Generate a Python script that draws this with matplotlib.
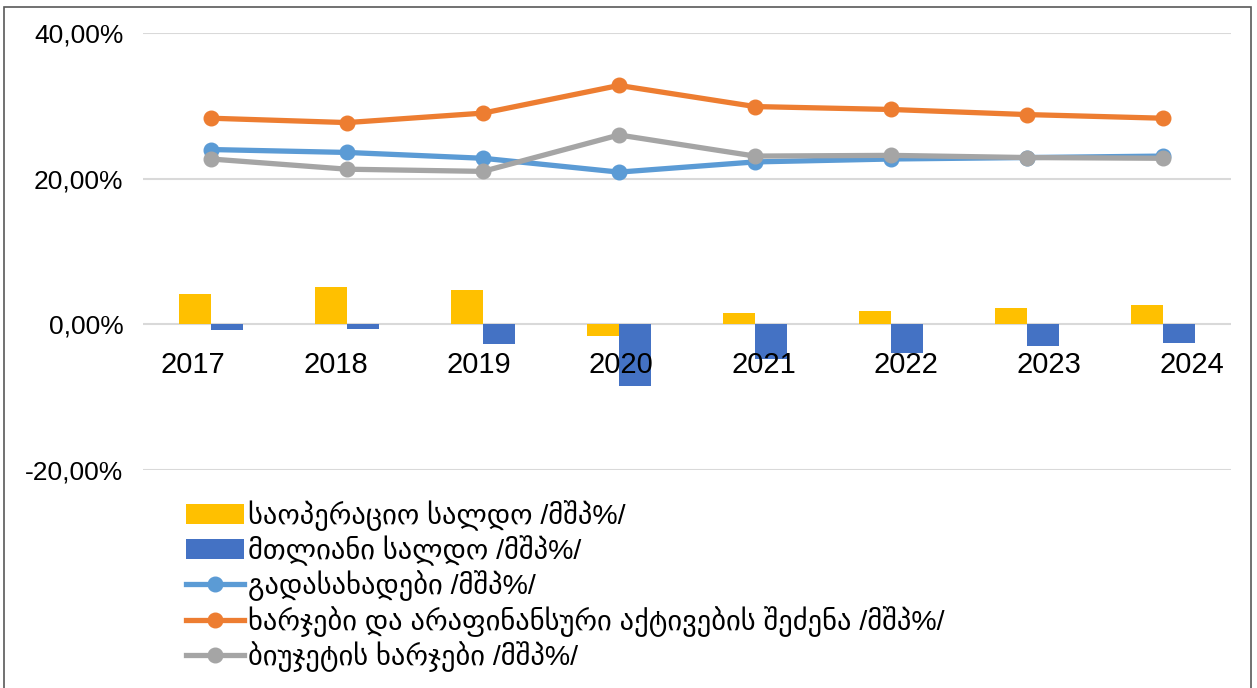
import matplotlib
matplotlib.use("Agg")
import matplotlib.pyplot as plt
import numpy as np
from matplotlib.ticker import FuncFormatter
from matplotlib.patches import Rectangle

plt.rcParams['font.family'] = ['Liberation Sans', 'DejaVu Sans']

years = ['2017', '2018', '2019', '2020', '2021', '2022', '2023', '2024']
operating_balance = [4.1, 5.1, 4.7, -1.6, 1.5, 1.8, 2.3, 2.7]
overall_balance = [-0.8, -0.7, -2.7, -8.4, -4.7, -4.0, -3.0, -2.5]
taxes = [24.0, 23.6, 22.8, 20.9, 22.3, 22.7, 22.9, 23.1]
expenses_assets = [28.3, 27.7, 29.0, 32.8, 29.9, 29.5, 28.8, 28.3]
budget_expenses = [22.7, 21.3, 21.0, 26.0, 23.1, 23.2, 22.9, 22.8]

labels = ['საოპერაციო სალდო /მშპ%/',
          'მთლიანი სალდო /მშპ%/',
          'გადასახადები /მშპ%/',
          'ხარჯები და არაფინანსური აქტივების შეძენა /მშპ%/',
          'ბიუჯეტის ხარჯები /მშპ%/']

c_yellow = '#FFC000'
c_bar_blue = '#4472C4'
c_blue = '#5B9BD5'
c_orange = '#ED7D31'
c_gray = '#A5A5A5'

W, H = 1257, 688
fig = plt.figure(figsize=(W / 100, H / 100), dpi=100)
fig.patches.append(Rectangle((4 / W, -0.01), (1251 - 4) / W, 1 - 7 / H + 0.01,
                             transform=fig.transFigure, fill=False,
                             edgecolor='#595959', linewidth=1.2, zorder=0))

ax = fig.add_axes([143 / W, 1 - 470 / H, (1231 - 143) / W, (470 - 33) / H])
x = np.arange(len(years))
bw = 0.235
b1 = ax.bar(x - bw / 2, operating_balance, bw, color=c_yellow, label=labels[0], zorder=2)
b2 = ax.bar(x + bw / 2, overall_balance, bw, color=c_bar_blue, label=labels[1], zorder=2)
l1, = ax.plot(x, taxes, color=c_blue, lw=3.8, marker='o', ms=10.5, label=labels[2], zorder=3)
l2, = ax.plot(x, expenses_assets, color=c_orange, lw=3.8, marker='o', ms=10.5, label=labels[3], zorder=3)
l3, = ax.plot(x, budget_expenses, color=c_gray, lw=3.8, marker='o', ms=10.5, label=labels[4], zorder=4)

ax.set_xlim(-0.5, len(years) - 0.5)
ax.set_ylim(-20, 40)
ax.set_yticks([-20, 0, 20, 40])
ax.yaxis.set_major_formatter(FuncFormatter(lambda v, p: f"{v:.2f}%".replace('.', ',')))
ax.grid(axis='y', color='#D9D9D9', lw=1.5)
ax.set_axisbelow(True)
ax.xaxis.set_zorder(5)
for s in ['top', 'right', 'left']:
    ax.spines[s].set_visible(False)
ax.spines['bottom'].set_position(('data', 0))
ax.spines['bottom'].set_visible(False)

ax.set_xticks(np.arange(len(years)) * 1.049 - 0.132)
ax.set_xticklabels(years)
ax.tick_params(axis='x', length=0, pad=19, labelsize=21)
ax.tick_params(axis='y', length=0, pad=14, labelsize=19)

leg = fig.legend([b1, b2, l1, l2, l3], labels, loc='upper left',
                 bbox_to_anchor=(186 / W, 1 - 500 / H),
                 frameon=False, fontsize=20.5, handlelength=2.05, handletextpad=0.12,
                 labelspacing=0.16, borderpad=0, borderaxespad=0)

fig.savefig('out.png', dpi=100)
